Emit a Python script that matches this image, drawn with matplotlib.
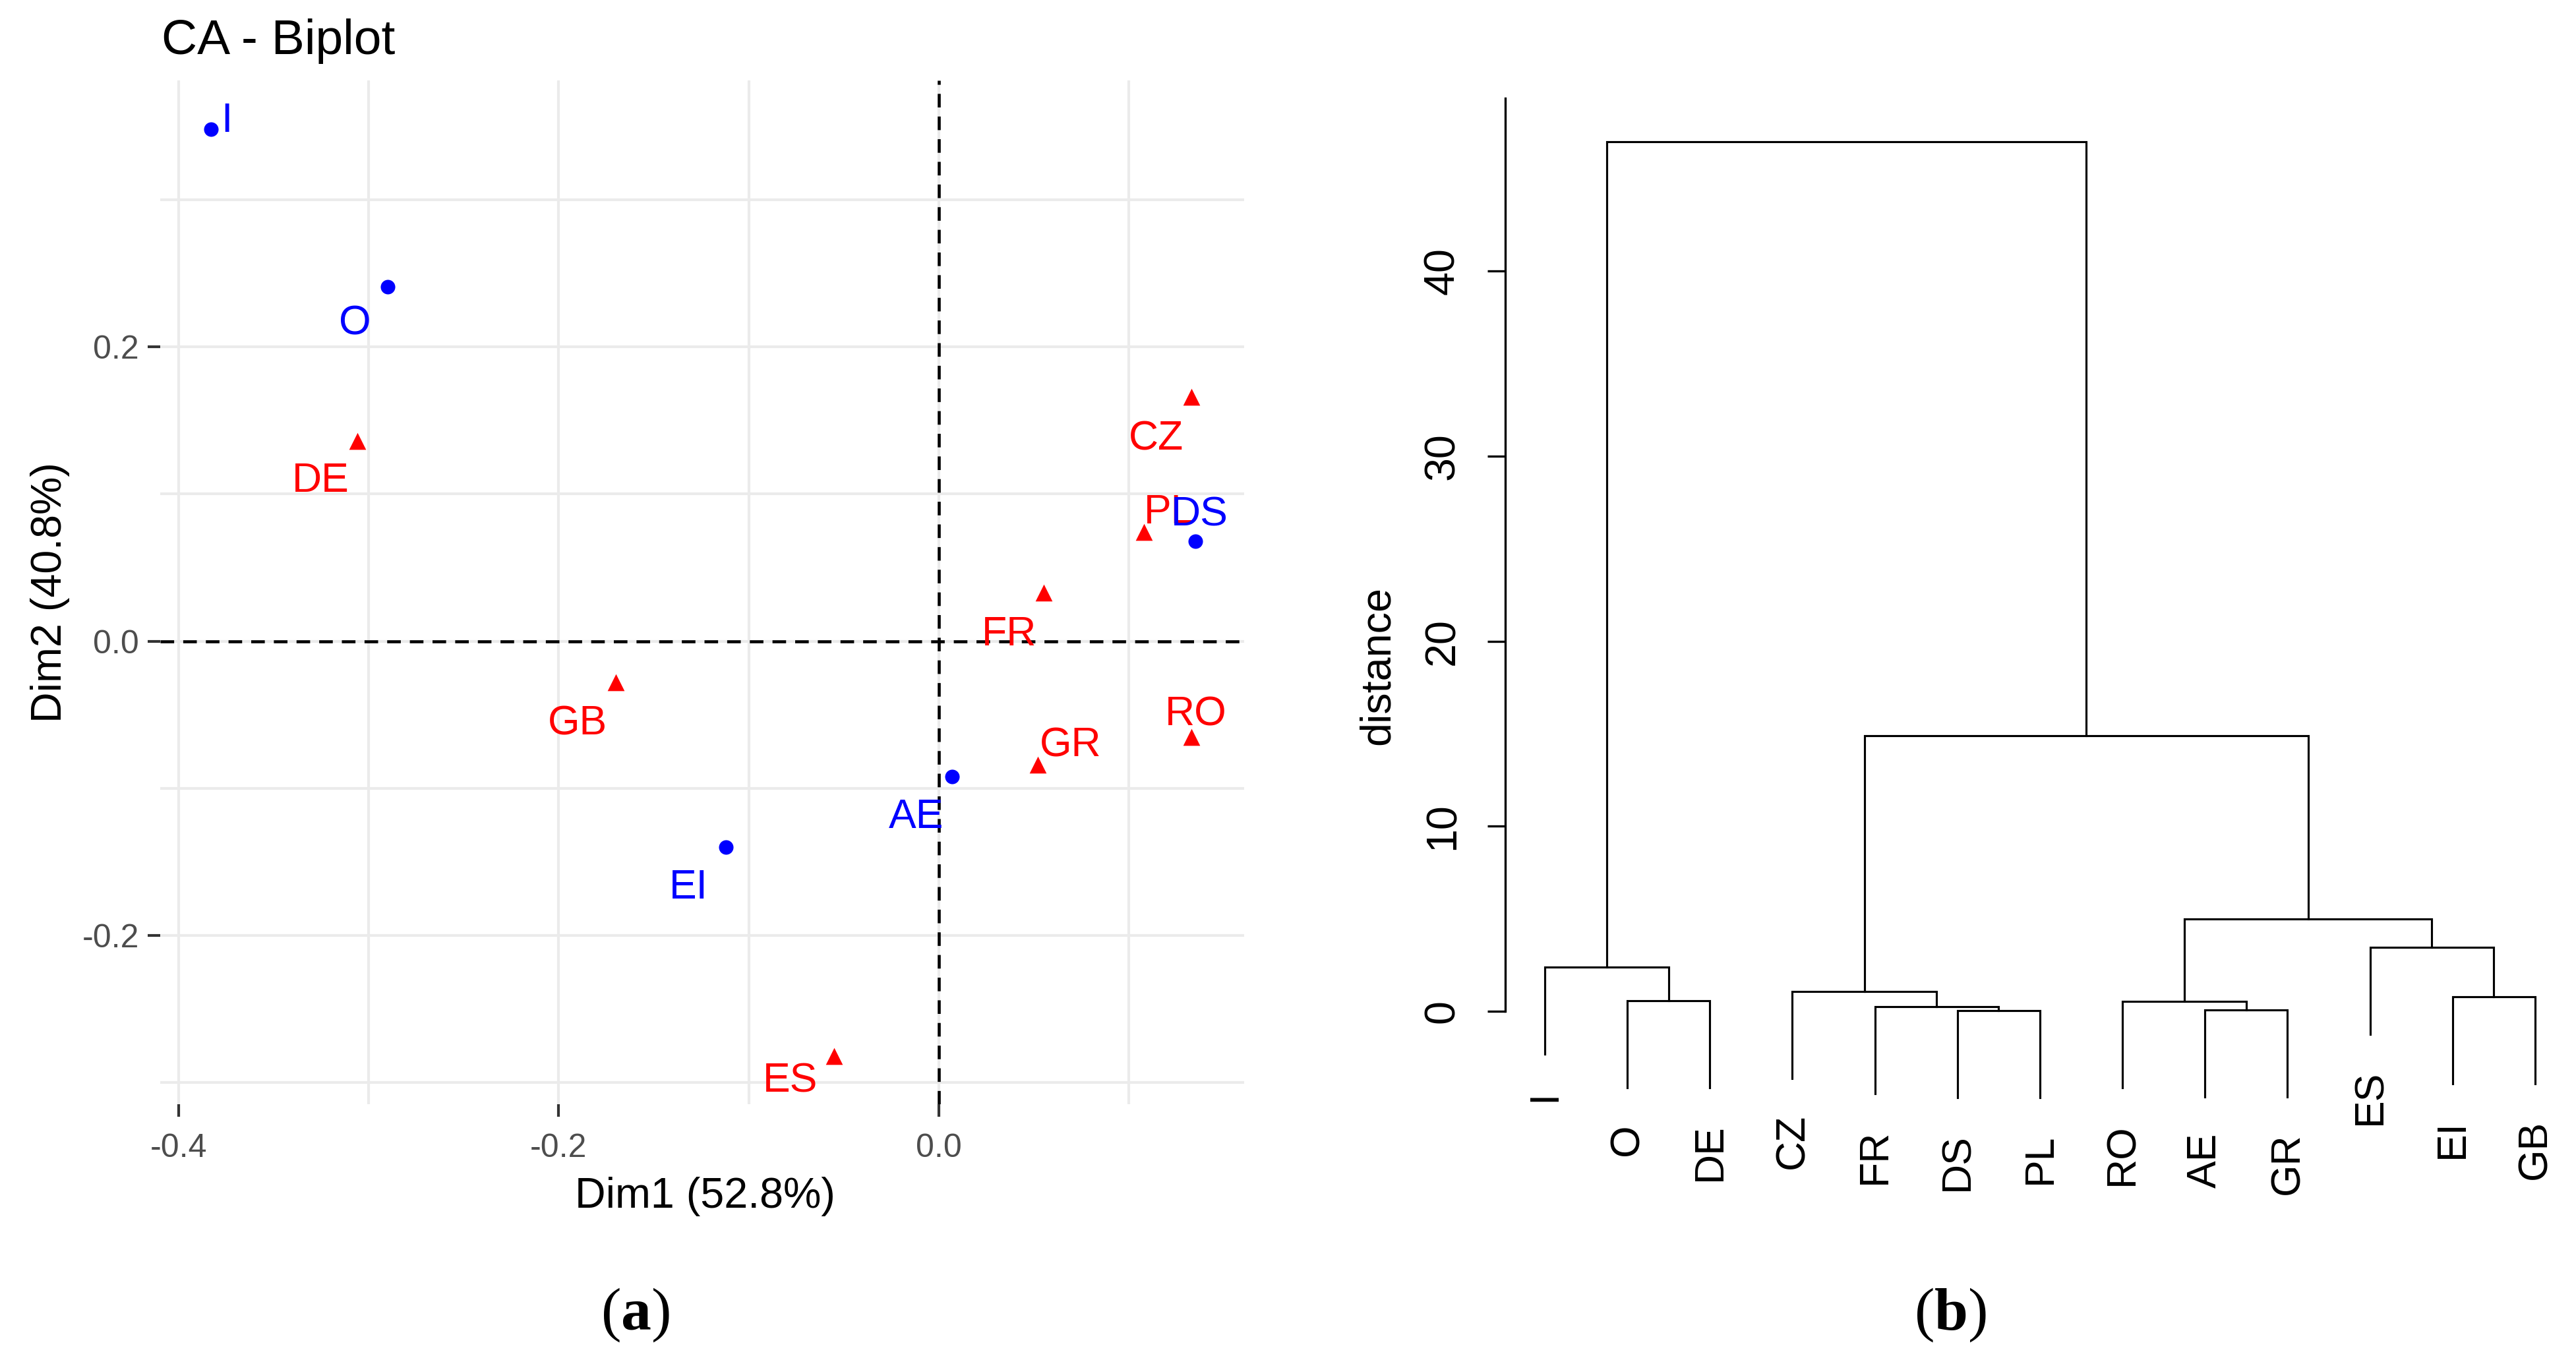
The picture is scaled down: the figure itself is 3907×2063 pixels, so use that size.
import matplotlib
matplotlib.use('Agg')
import matplotlib.pyplot as plt

plt.rcParams['font.family'] = ['Liberation Sans', 'DejaVu Sans']
plt.rcParams['mathtext.fontset'] = 'custom'
plt.rcParams['mathtext.rm'] = 'Liberation Serif'
plt.rcParams['mathtext.bf'] = 'Liberation Serif:bold'

# -- panel (a): CA biplot coordinates ---------------------------------------
row_names = ['DE', 'GB', 'ES', 'CZ', 'PL', 'FR', 'GR', 'RO']
row_dim1 = [-0.306, -0.170, -0.055, 0.133, 0.108, 0.055, 0.052, 0.133]
row_dim2 = [0.136, -0.028, -0.282, 0.166, 0.074, 0.033, -0.084, -0.065]

col_names = ['I', 'O', 'EI', 'AE', 'DS']
col_dim1 = [-0.383, -0.290, -0.112, 0.007, 0.135]
col_dim2 = [0.348, 0.241, -0.140, -0.092, 0.068]

dim1_label = 'Dim1 (52.8%)'
dim2_label = 'Dim2 (40.8%)'

# -- panel (b): hierarchical clustering -------------------------------------
leaf_order = ['I', 'O', 'DE', 'CZ', 'FR', 'DS', 'PL', 'RO', 'AE', 'GR', 'ES', 'EI', 'GB']
# (left, right, height); an int refers to an earlier merge by index
merges = [
    ('DS', 'PL', 0.02),   # 0
    ('AE', 'GR', 0.06),   # 1
    ('FR', 0, 0.26),      # 2
    ('O', 'DE', 0.56),    # 3
    ('RO', 1, 0.55),      # 4
    ('EI', 'GB', 0.77),   # 5
    ('CZ', 2, 1.07),      # 6
    ('I', 3, 2.38),       # 7
    ('ES', 5, 3.47),      # 8
    (4, 8, 4.99),         # 9
    (6, 9, 14.89),        # 10
    (7, 10, 46.99),       # 11
]

# label placement (repel-style offsets, points) -- layout only
label_offset = {
    'I': (5.8, 4.5), 'O': (-11.9, -12.1), 'DE': (-13.4, -13.1), 'CZ': (-13.0, -14.0),
    'PL': (9.1, 8.7), 'DS': (1.4, 11.0), 'FR': (-12.5, -13.8), 'GB': (-13.8, -13.7),
    'RO': (1.4, 9.6), 'GR': (11.9, 8.3), 'AE': (-13.2, -13.3), 'EI': (-13.7, -13.3),
    'ES': (-16.1, -7.7),
}

W, H, DPI = 3907, 2063, 300
fig = plt.figure(figsize=(W / DPI, H / DPI), dpi=DPI)


def frac(x0, y0, x1, y1):
    return [x0 / W, 1 - y1 / H, (x1 - x0) / W, (y1 - y0) / H]


# ---------------------------------------------------------------- (a)
ax = fig.add_axes(frac(242.5, 122, 1887, 1675))
ax.set_xlim(-0.4098, 0.1606)
ax.set_ylim(-0.3147, 0.3811)
for s in ax.spines.values():
    s.set_visible(False)
ax.set_xticks([-0.4, -0.2, 0.0])
ax.set_xticklabels(['-0.4', '-0.2', '0.0'])
ax.set_yticks([-0.2, 0.0, 0.2])
ax.set_yticklabels(['-0.2', '0.0', '0.2'])
ax.set_xticks([-0.3, -0.1, 0.1], minor=True)
ax.set_yticks([-0.3, -0.1, 0.1, 0.3], minor=True)
ax.tick_params(which='minor', length=0)
ax.tick_params(axis='x', which='major', length=4.6, width=1.0, color='#333333',
               labelsize=12, labelcolor='#4D4D4D', pad=6)
ax.tick_params(axis='y', which='major', length=4.6, width=1.0, color='#333333',
               labelsize=12, labelcolor='#4D4D4D', pad=3)
ax.grid(which='both', color='#EBEBEB', lw=1.0)
ax.set_axisbelow(True)

ax.axhline(0, color='black', lw=1.1, ls=(0, (4.5, 3)), zorder=1)
ax.axvline(0, color='black', lw=1.1, ls=(0, (4.5, 3)), zorder=1)

ax.scatter(col_dim1, col_dim2, s=28, marker='o', c='#0000FF', linewidths=0, zorder=3)
ax.scatter(row_dim1, row_dim2, s=38, marker='^', c='#FF0000', linewidths=0, zorder=3)

fs_lab = 15
for names, xs, ys, color in [(row_names, row_dim1, row_dim2, '#FF0000'),
                             (col_names, col_dim1, col_dim2, '#0000FF')]:
    for n, x, y in zip(names, xs, ys):
        dx, dy = label_offset[n]
        ax.annotate(n, (x, y), xytext=(dx, dy - 0.358 * fs_lab), textcoords='offset points',
                    ha='center', va='baseline', color=color, fontsize=fs_lab, zorder=4)

fig.text(245 / W, 1 - 82 / H, 'CA - Biplot', ha='left', va='baseline', fontsize=18)
fig.text(1069 / W, 1 - 1832 / H, dim1_label, ha='center', va='baseline', fontsize=15.5)
fig.text(76 / W, 1 - 898.5 / H, dim2_label, rotation=90, ha='center', va='center',
         fontsize=15.5)

# ---------------------------------------------------------------- (b)
bx = fig.add_axes(frac(2282.9, 148.6, 3905, 1876))
bx.set_xlim(0.52, 13.48)
bx.set_ylim(-12.18, 49.35)
for side in ['top', 'right', 'bottom']:
    bx.spines[side].set_visible(False)
bx.spines['left'].set_bounds(0, 49.35)
bx.spines['left'].set_linewidth(0.8)
bx.set_xticks([])
bx.set_yticks([0, 10, 20, 30, 40])
bx.tick_params(axis='y', length=6.5, width=0.8, pad=9, labelsize=15.5, labelrotation=90)
for t in bx.get_yticklabels():
    t.set_va('center')

pos = {n: i + 1 for i, n in enumerate(leaf_order)}
heights = [m[2] for m in merges]
hang = 0.1 * (max(heights) - min(heights))
node_x = {}
for k, (a, b, h) in enumerate(merges):
    xs, bottoms = [], []
    for c in (a, b):
        if isinstance(c, str):
            xc, yc = pos[c], h - hang
            bx.annotate(c, (xc, yc), xytext=(0, -13), textcoords='offset points',
                        rotation=90, ha='center', va='top', fontsize=15,
                        annotation_clip=False)
        else:
            xc, yc = node_x[c], merges[c][2]
        xs.append(xc)
        bottoms.append(yc)
    bx.plot([xs[0], xs[0], xs[1], xs[1]], [bottoms[0], h, h, bottoms[1]],
            color='black', lw=0.75, solid_joinstyle='miter', clip_on=False)
    node_x[k] = (xs[0] + xs[1]) / 2

fig.text(2090 / W, 1 - 1010 / H, 'distance', rotation=90, ha='center', va='center',
         fontsize=15.5)

# captions
for x, letter in [(963, 'a'), (2958, 'b')]:
    fig.text(x / W, 1 - 1995 / H, r'($\mathbf{%s}$)' % letter, ha='center', va='center',
             fontsize=22, family='Liberation Serif')

fig.savefig('out.png', dpi=DPI)
plt.close(fig)
